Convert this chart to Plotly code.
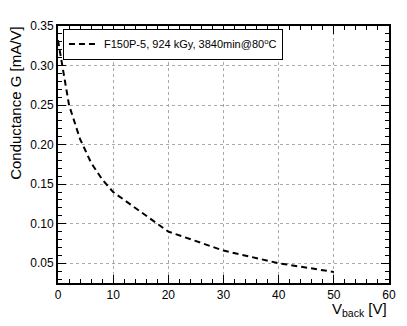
import plotly.graph_objects as go

vback = [0, 1, 2, 4, 6, 8, 10, 20, 30, 40, 50]
conductance = [0.332, 0.29, 0.25, 0.207, 0.177, 0.156, 0.14, 0.09, 0.066, 0.05, 0.039]
label = "F150P-5, 924 kGy, 3840min@80<sup>o</sup>C"

font = dict(family="Liberation Sans, Arial, sans-serif", size=12, color="black")

fig = go.Figure()
fig.add_trace(go.Scatter(x=vback, y=conductance, mode="lines", name=label,
                         line=dict(color="black", width=2, dash="6px,4px")))

axis_common = dict(showline=True, linecolor="black", linewidth=2, mirror="allticks",
                   ticks="inside", ticklen=8, tickcolor="black", tickwidth=1,
                   showgrid=True, gridcolor="#aaaaaa", griddash="dot", gridwidth=1,
                   zeroline=False, tickfont=font)

fig.update_xaxes(range=[0, 60], dtick=10, tick0=0,
                 minor=dict(ticks="inside", dtick=2, ticklen=4, tickcolor="black", showgrid=False),
                 **axis_common)
fig.update_yaxes(range=[0.025, 0.35], dtick=0.05, tick0=0, tickformat=".2f",
                 minor=dict(ticks="inside", dtick=0.01, ticklen=4, tickcolor="black", showgrid=False),
                 **axis_common)

# page body has an 8px margin, so the figure is shrunk by that much
fig.add_annotation(text="V<sub>back</sub> [V]", xref="paper", yref="paper", x=1, y=-0.06,
                   xanchor="right", yanchor="top", showarrow=False, font=dict(font, size=15))
fig.add_annotation(text="Conductance G [mA/V]", xref="paper", yref="paper", x=-0.128, y=1.005,
                   xanchor="center", yanchor="top", textangle=-90, showarrow=False,
                   font=dict(font, size=15))

fig.update_layout(
    width=399, height=318,
    margin=dict(l=50, r=14, t=11, b=43),
    paper_bgcolor="white", plot_bgcolor="white",
    font=font,
    showlegend=True,
    legend=dict(x=0.015, y=0.99, xanchor="left", yanchor="top",
                bordercolor="black", borderwidth=1, bgcolor="white",
                itemwidth=30, font=dict(font, size=11)),
)

fig.write_html("out.html")
